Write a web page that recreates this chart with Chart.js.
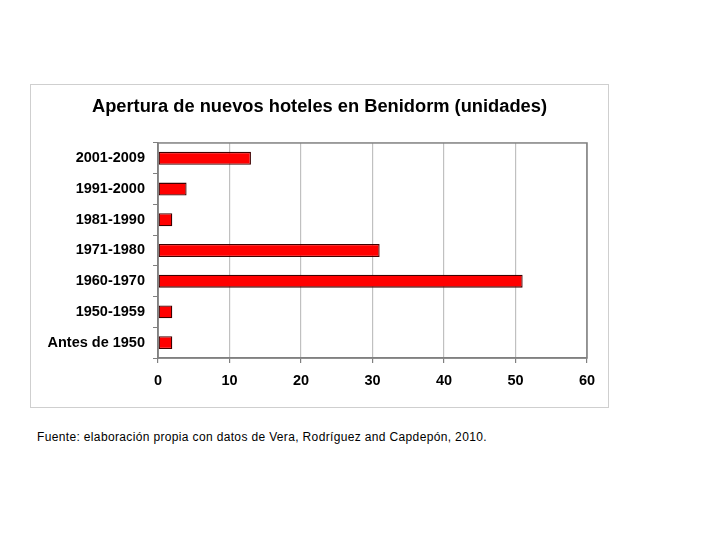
<!DOCTYPE html>
<html>
<head>
<meta charset="utf-8">
<script src="https://cdn.jsdelivr.net/npm/chart.js@4"></script>
<style>
  body { margin: 0; background: #fff; width: 720px; height: 540px; position: relative; }
  #frame { position: absolute; left: 30px; top: 84px; width: 577px; height: 322px; border: 1px solid #cfcfcf; }
  #c { display: block; }
  #foot { position: absolute; left: 37px; top: 430px; font: 12px "Liberation Sans", Arial, sans-serif; color: #000; letter-spacing: 0.35px; }
</style>
</head>
<body>
<div id="frame"><canvas id="c" width="577" height="322"></canvas></div>
<div id="foot">Fuente: elaboración propia con datos de Vera, Rodríguez and Capdepón, 2010.</div>
<script>
// categorias y valores
const periodos = ['2001-2009', '1991-2000', '1981-1990', '1971-1980', '1960-1970', '1950-1959', 'Antes de 1950'];
const hoteles = [13, 4, 2, 31, 51, 2, 2];
const ticksX = [0, 10, 20, 30, 40, 50, 60];

const fuente = "'Liberation Sans', Arial, sans-serif";

// marco del área de trazado
const marco = {
  id: 'marco',
  afterDraw(chart) {
    const a = chart.chartArea;
    const ctx = chart.ctx;
    ctx.save();
    ctx.strokeStyle = '#808080';
    ctx.lineWidth = 1.5;
    ctx.strokeRect(a.left, a.top, a.right - a.left, a.bottom - a.top);
    ctx.restore();
  }
};

const ctx = document.getElementById('c');
new Chart(ctx, {
  type: 'bar',
  data: {
    labels: periodos,
    datasets: [{
      data: hoteles,
      backgroundColor: '#ff0000',
      borderColor: '#400000',
      borderWidth: 1.3,
      borderSkipped: false,
      barPercentage: 0.42,
      categoryPercentage: 1,
    }],
  },
  options: {
    indexAxis: 'y',
    responsive: false,
    animation: false,
    devicePixelRatio: 1,
    layout: { padding: { top: 11, left: 0, right: 0, bottom: 0 } },
    plugins: {
      legend: { display: false },
      tooltip: { enabled: false },
      title: {
        display: true,
        text: 'Apertura de nuevos hoteles en Benidorm (unidades)',
        color: '#000',
        font: { family: fuente, size: 18.3, weight: 'bold' },
        padding: { top: 0, bottom: 25 },
      },
    },
    scales: {
      x: {
        min: 0,
        max: 60,
        afterBuildTicks(scale) {
          scale.ticks = ticksX.map(v => ({ value: v }));
        },
        afterFit(scale) { scale.height = 49; scale.paddingRight = 21; },
        ticks: { color: '#000', font: { family: fuente, size: 14.5, weight: 'bold' }, padding: 9 },
        grid: { color: '#c0c0c0', lineWidth: 1.2, tickColor: '#808080', tickLength: 5 },
        border: { color: '#808080', width: 1.5 },
      },
      y: {
        afterFit(scale) { scale.width = 127; },
        ticks: { color: '#000', font: { family: fuente, size: 14.5, weight: 'bold' }, padding: 8 },
        grid: { drawOnChartArea: false, tickColor: '#808080', tickLength: 5 },
        border: { color: '#808080', width: 1.5 },
      },
    },
  },
  plugins: [marco],
});
</script>
</body>
</html>
